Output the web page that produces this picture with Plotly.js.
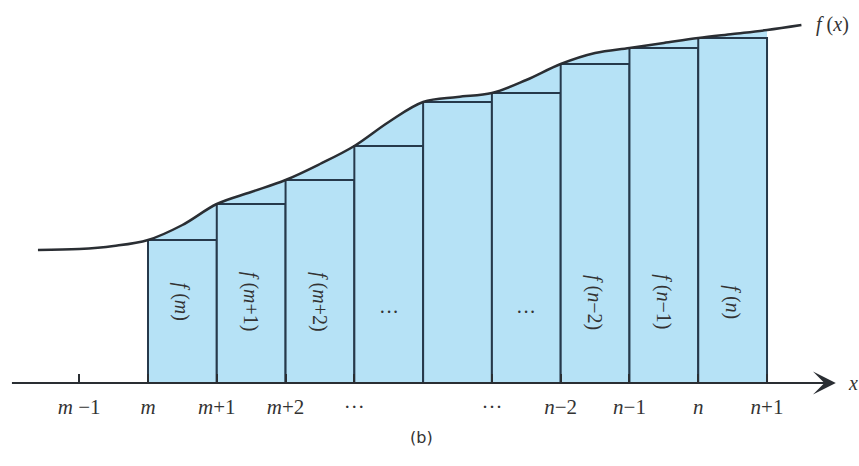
<!DOCTYPE html>
<html>
<head>
<meta charset="utf-8">
<script src="https://cdn.plot.ly/plotly-3.0.1.min.js"></script>
<style>html,body{margin:0;padding:0;background:#fff;}#chart{width:859px;height:466px;}</style>
</head>
<body>
<div id="chart"></div>
<script>
// Curve f(x): x measured in steps from m (m = 0)
const curveX = [-1.6, -1.0, -0.5, 0.0, 0.5, 1.0, 1.5, 2.0, 2.5, 3.0, 3.5, 4.0, 4.5, 5.0, 5.5, 6.0, 6.5, 7.0, 7.5, 8.0, 8.5, 9.0, 9.5];
const curveY = [1.33, 1.34, 1.37, 1.43, 1.58, 1.79, 1.91, 2.03, 2.19, 2.37, 2.61, 2.81, 2.86, 2.90, 3.03, 3.19, 3.30, 3.35, 3.40, 3.45, 3.49, 3.53, 3.58];

// Rectangles: left edge and height f(left edge)
const barLeft = [0, 1, 2, 3, 4, 5, 6, 7, 8];
const barHeight = [1.43, 1.79, 2.03, 2.37, 2.81, 2.90, 3.19, 3.35, 3.45];
const barLabels = ["<i>f</i> (<i>m</i>)", "<i>f</i> (<i>m</i>+1)", "<i>f</i> (<i>m</i>+2)", "···", "", "···", "<i>f</i> (<i>n</i>−2)", "<i>f</i> (<i>n</i>−1)", "<i>f</i> (<i>n</i>)"];

// Axis tick labels
const tickVals = [-1, 0, 1, 2, 3, 5, 6, 7, 8, 9];
const tickText = ["<i>m</i> −1", "<i>m</i>", "<i>m</i>+1", "<i>m</i>+2", "···", "···", "<i>n</i>−2", "<i>n</i>−1", "<i>n</i>", "<i>n</i>+1"];

const blue = '#b6e2f6';
const dark = '#26394b';
const serif = 'Liberation Serif';

const fillX = [], fillY = [];
curveX.forEach((x, i) => { if (x >= 0 && x <= barLeft[barLeft.length - 1] + 1) { fillX.push(x); fillY.push(curveY[i]); } });

const traces = [
  { type: 'scatter', mode: 'lines', x: fillX, y: fillY, fill: 'tozeroy', fillcolor: blue, xaxis: 'x', yaxis: 'y',
    line: { width: 0, shape: 'spline', smoothing: 1, color: blue }, hoverinfo: 'skip' },
  { type: 'bar', x: barLeft, y: barHeight, width: 1, offset: 0, xaxis: 'x2', yaxis: 'y2',
    marker: { color: blue, line: { color: dark, width: 2 } }, hoverinfo: 'skip' },
  { type: 'scatter', mode: 'lines', x: curveX, y: curveY, xaxis: 'x2', yaxis: 'y2',
    line: { color: '#2a2e33', width: 2.5, shape: 'spline', smoothing: 1 }, hoverinfo: 'skip' }
];

const annotations = [];
barLabels.forEach((t, i) => {
  if (!t) return;
  const dots = t === '···';
  annotations.push({ x: barLeft[i] + 0.5, y: dots ? 0.71 : 0.81, xref: 'x', yref: 'y', text: t,
    textangle: dots ? 0 : 90, showarrow: false, font: { family: serif, size: 20, color: '#333' } });
});
// x axis with arrow
annotations.push({ x: 10.0, y: 0, ax: -2.0, ay: 0, xref: 'x', yref: 'y', axref: 'x', ayref: 'y', text: '',
  showarrow: true, arrowhead: 3, arrowsize: 2.0, arrowwidth: 1.9, arrowcolor: '#2a2e33' });
annotations.push({ x: 10.15, y: 0, xref: 'x', yref: 'y', text: '<i>x</i>', showarrow: false, xanchor: 'left',
  font: { family: serif, size: 20, color: '#333' } });
annotations.push({ x: 9.68, y: 3.59, xref: 'x', yref: 'y', text: '<i>f</i> (<i>x</i>)', showarrow: false, xanchor: 'left',
  font: { family: serif, size: 20, color: '#333' } });
annotations.push({ x: 421 / 859, y: 1 - 437 / 466, xref: 'paper', yref: 'paper', text: '(b)', showarrow: false,
  xanchor: 'center', yanchor: 'middle',
  font: { family: 'DejaVu Sans', size: 16, color: '#333' } });

const xr = [-148 / 68.78, (859 - 148) / 68.78];
const yr = [-0.83, 3.83];

const layout = {
  width: 859, height: 466,
  margin: { l: 0, r: 0, t: 0, b: 0 },
  paper_bgcolor: '#fff', plot_bgcolor: '#fff',
  showlegend: false,
  bargap: 0,
  xaxis: { range: xr, showgrid: false, zeroline: false, showline: false,
    anchor: 'free', position: 1 - 383 / 466,
    tickmode: 'array', tickvals: tickVals, ticktext: tickText, ticks: 'inside', ticklen: 9, tickwidth: 2,
    tickcolor: '#2a2e33', ticklabelstandoff: 9,
    tickfont: { family: serif, size: 21, color: '#333' } },
  yaxis: { range: yr, showgrid: false, zeroline: false, showline: false, showticklabels: false, ticks: '' },
  xaxis2: { range: xr, overlaying: 'x', showgrid: false, zeroline: false, showline: false, showticklabels: false, ticks: '' },
  yaxis2: { range: yr, overlaying: 'y', showgrid: false, zeroline: false, showline: false, showticklabels: false, ticks: '' },
  annotations: annotations
};

Plotly.newPlot('chart', traces, layout, { staticPlot: true, displayModeBar: false });
</script>
</body>
</html>
